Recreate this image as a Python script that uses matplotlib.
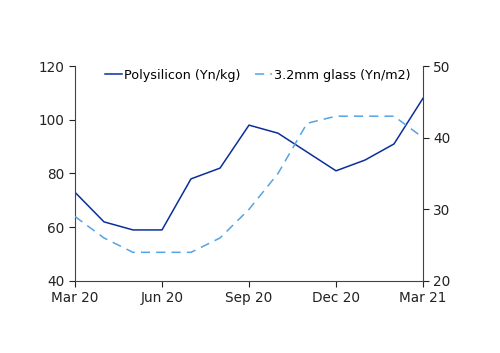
import matplotlib.pyplot as plt

# monthly data, Mar 2020 .. Mar 2021
months = ['Mar 20', 'Apr 20', 'May 20', 'Jun 20', 'Jul 20', 'Aug 20', 'Sep 20',
          'Oct 20', 'Nov 20', 'Dec 20', 'Jan 21', 'Feb 21', 'Mar 21']
polysilicon = [73, 62, 59, 59, 78, 82, 98, 95, 88, 81, 85, 91, 108]
glass = [29, 26, 24, 24, 24, 26, 30, 35, 42, 43, 43, 43, 40]

tick_pos = [0, 3, 6, 9, 12]
tick_labels = [months[i] for i in tick_pos]

fig = plt.figure(figsize=(5, 3.53), dpi=100)
ax = fig.add_axes([0.15, 0.204, 0.696, 0.609])
ax2 = ax.twinx()

x = list(range(len(months)))
l1, = ax.plot(x, polysilicon, color='#0a2f9a', lw=1.1, label='Polysilicon (Yn/kg)')
l2, = ax2.plot(x, glass, color='#55a3e3', lw=1.1, dashes=(6, 4), label='3.2mm glass (Yn/m2)')

ax.set_xlim(0, 12)
ax.set_ylim(40, 120)
ax.set_yticks([40, 60, 80, 100, 120])
ax2.set_ylim(20, 50)
ax2.set_yticks([20, 30, 40, 50])
ax.set_xticks(tick_pos)
ax.set_xticklabels(tick_labels)

for a in (ax, ax2):
    a.spines['top'].set_visible(False)
    a.tick_params(labelsize=9.8, colors='#222222', length=4, width=0.8)
ax.spines['right'].set_visible(False)
ax2.spines['left'].set_visible(False)
ax2.spines['bottom'].set_visible(False)
for s in ('left', 'bottom'):
    ax.spines[s].set_color('#444444')
ax2.spines['right'].set_color('#444444')

ax.legend(handles=[l1, l2], ncol=2, frameon=False, fontsize=9.2,
          loc='upper center', bbox_to_anchor=(0.525, 1.04), handlelength=1.3,
          handletextpad=0.15, columnspacing=1.2)

fig.savefig('out.png', dpi=100)
